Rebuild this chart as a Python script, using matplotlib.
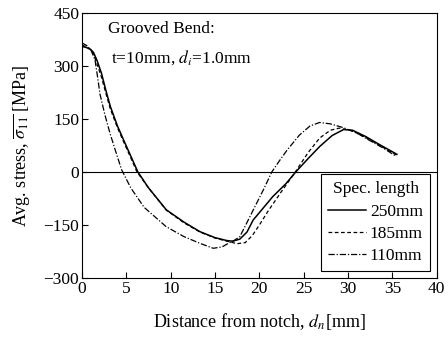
import numpy as np
import matplotlib
matplotlib.use('Agg')
import matplotlib.pyplot as plt

plt.rcParams['font.family'] = ['Liberation Serif', 'DejaVu Serif']
plt.rcParams['mathtext.fontset'] = 'stix'
plt.rcParams['font.size'] = 12.5

# spec. length 250 mm
x_250 = [0, 0.5, 1.0, 1.3, 1.7, 2.2, 2.7, 3.2, 4.0, 4.7, 5.5, 6.3, 7.5, 9.5, 11.5, 13.3, 15, 16.3,
         17.0, 17.8, 18.6, 19.3, 20.5, 21.5, 23, 24.1, 25.5, 26.8, 28.2, 29.5, 30.5, 32, 33.5, 35.5]
y_250 = [355, 352, 346, 338, 315, 279, 230, 185, 130, 90, 45, 0, -45, -107, -142, -169, -186, -194,
         -196, -190, -170, -136, -100, -70, -33, 0, 38, 72, 103, 120, 118, 100, 78, 50]

# spec. length 185 mm
x_185 = [0, 0.5, 1.0, 1.3, 1.7, 2.2, 2.7, 3.2, 4.0, 4.7, 5.5, 6.2, 7.5, 9.5, 11.5, 13.3, 15, 16.5,
         17.5, 18.4, 19.2, 20, 21, 22.5, 24, 25.5, 26.8, 28, 29, 30.5, 32, 33.5, 35.5]
y_185 = [358, 355, 346, 334, 305, 268, 222, 178, 125, 85, 40, 0, -45, -108, -144, -170, -187, -197,
         -203, -200, -180, -150, -110, -55, -2, 55, 96, 118, 124, 116, 97, 76, 47]

# spec. length 110 mm
x_110 = [0, 0.5, 1.0, 1.46, 1.75, 2.03, 2.6, 3.15, 3.8, 4.47, 5.5, 7, 9.5, 11.5, 13.3, 14.8, 15.8,
         16.5, 17.2, 17.8, 19.3, 20.5, 21.4, 22.3, 23.1, 24.5, 25.7, 26.8, 28, 29.5, 31, 32.5, 34, 35.3]
y_110 = [365, 358, 345, 318, 270, 220, 160, 110, 58, 6, -45, -100, -155, -183, -202, -216, -212,
         -202, -193, -183, -108, -48, 0, 33, 61, 104, 130, 140, 136, 125, 110, 88, 67, 46]

fig = plt.figure(figsize=(4.48, 3.39), dpi=100)
ax = fig.add_axes([0.183, 0.18, 0.792, 0.782])

ax.axhline(0, color='black', lw=0.8)
ax.plot(x_250, y_250, color='black', lw=1.1, ls='-', label='250mm')
ax.plot(x_185, y_185, color='black', lw=0.9, ls=(0, (3, 2)), label='185mm')
ax.plot(x_110, y_110, color='black', lw=0.9, ls=(0, (5, 1.5, 1, 1.5)), label='110mm')

ax.set_xlim(0, 40)
ax.set_ylim(-300, 450)
ax.set_xticks(np.arange(0, 41, 5))
ax.set_yticks(np.arange(-300, 451, 150))
ax.tick_params(direction='in', length=4, width=0.8, pad=2)

ax.set_xlabel('Distance from notch, $d_n$[mm]', labelpad=10, fontsize=13)
ax.set_ylabel(r'Avg. stress, $\overline{\sigma_{11}}$ [MPa]', labelpad=8, fontsize=13)

ax.text(2.9, 393, 'Grooved Bend:', va='baseline', ha='left')
ax.text(3.3, 308, 't=10mm, $d_i$=1.0mm', va='baseline', ha='left')

leg = ax.legend(title='Spec. length', loc='lower right', fancybox=False, edgecolor='black',
                framealpha=1, handlelength=2.2, handletextpad=0.2, borderaxespad=0.4,
                labelspacing=0.35, borderpad=0.4)
leg.get_frame().set_linewidth(0.8)
leg.get_title().set_fontsize(12.5)

fig.savefig('out.png', dpi=100)
